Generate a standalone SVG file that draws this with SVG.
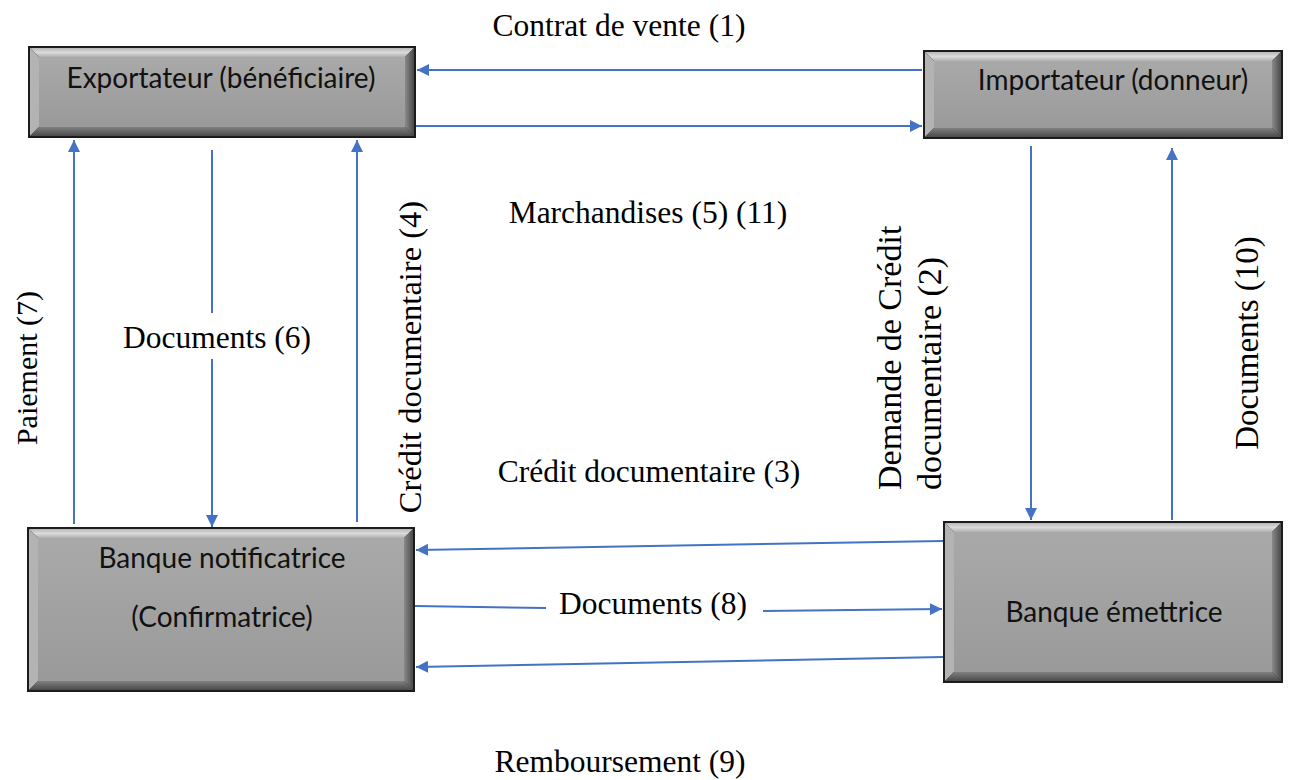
<svg xmlns="http://www.w3.org/2000/svg" width="1304" height="780" viewBox="0 0 1304 780">
<style>
.lbl{font-family:"Liberation Serif","Times New Roman",serif;font-size:31.5px;fill:#000}
.box{font-family:Lato,"Open Sans",sans-serif;font-size:28px;fill:#111}
.ln{stroke:#4472C4;stroke-width:2;fill:none}
.arr{marker-end:url(#ah)}
.brd{fill:#1c1c1c}
.bt{fill:url(#gTop)}
.bl{fill:#b3b3b3}
.br{fill:url(#gRight)}
.bb{fill:url(#gBot)}
.face{fill:url(#gFace)}
</style>
<defs>
<marker id="ah" viewBox="0 0 10 10" refX="10" refY="5" markerWidth="13" markerHeight="12" markerUnits="userSpaceOnUse" orient="auto">
<path d="M0,0 L10,5 L0,10 z" fill="#4472C4"/>
</marker>
<linearGradient id="gFace" x1="0" y1="0" x2="0" y2="1"><stop offset="0" stop-color="#a9a9a9"/><stop offset="1" stop-color="#9a9a9a"/></linearGradient>
<linearGradient id="gTop" x1="0" y1="0" x2="0" y2="1"><stop offset="0" stop-color="#b8b8b8"/><stop offset="0.5" stop-color="#dadada"/><stop offset="1" stop-color="#b0b0b0"/></linearGradient>
<linearGradient id="gRight" x1="0" y1="0" x2="1" y2="0"><stop offset="0" stop-color="#8a8a8a"/><stop offset="1" stop-color="#4a4a4a"/></linearGradient>
<linearGradient id="gBot" x1="0" y1="0" x2="0" y2="1"><stop offset="0" stop-color="#808080"/><stop offset="1" stop-color="#4a4a4a"/></linearGradient>
</defs>

<g id="exportateur">
<rect class="brd" x="28" y="46" width="388" height="92"/>
<polygon class="bt" points="30,48 414,48 405,57 39,57"/>
<polygon class="bl" points="30,48 39,57 39,127 30,136"/>
<polygon class="br" points="414,48 414,136 405,127 405,57"/>
<polygon class="bb" points="30,136 414,136 405,127 39,127"/>
<rect class="face" x="39" y="57" width="366" height="70"/>
<text class="box" x="221" y="88" text-anchor="middle">Exportateur (bénéficiaire)</text>
</g>

<g id="importateur">
<rect class="brd" x="923" y="50" width="360" height="89"/>
<polygon class="bt" points="925,52 1281,52 1272,61 934,61"/>
<polygon class="bl" points="925,52 934,61 934,128 925,137"/>
<polygon class="br" points="1281,52 1281,137 1272,128 1272,61"/>
<polygon class="bb" points="925,137 1281,137 1272,128 934,128"/>
<rect class="face" x="934" y="61" width="338" height="67"/>
<text class="box" x="1113" y="90" text-anchor="middle">Importateur (donneur)</text>
</g>

<g id="notificatrice">
<rect class="brd" x="27" y="527" width="388" height="165"/>
<polygon class="bt" points="29,529 413,529 404,538 38,538"/>
<polygon class="bl" points="29,529 38,538 38,681 29,690"/>
<polygon class="br" points="413,529 413,690 404,681 404,538"/>
<polygon class="bb" points="29,690 413,690 404,681 38,681"/>
<rect class="face" x="38" y="538" width="366" height="143"/>
<text class="box" x="222" y="568" text-anchor="middle">Banque notificatrice</text>
<text class="box" x="222" y="627" text-anchor="middle">(Confirmatrice)</text>
</g>

<g id="emettrice">
<rect class="brd" x="943" y="521" width="340" height="162"/>
<polygon class="bt" points="945,523 1281,523 1272,532 954,532"/>
<polygon class="bl" points="945,523 954,532 954,672 945,681"/>
<polygon class="br" points="1281,523 1281,681 1272,672 1272,532"/>
<polygon class="bb" points="945,681 1281,681 1272,672 954,672"/>
<rect class="face" x="954" y="532" width="318" height="140"/>
<text class="box" x="1114" y="622" text-anchor="middle">Banque émettrice</text>
</g>

<g id="connectors">
<line class="ln arr" x1="922" y1="70" x2="417" y2="70"/>
<line class="ln arr" x1="416" y1="126" x2="922" y2="126"/>
<line class="ln arr" x1="74" y1="524" x2="74" y2="140"/>
<line class="ln" x1="212" y1="150" x2="212" y2="313"/>
<line class="ln arr" x1="212" y1="359" x2="212" y2="527"/>
<line class="ln arr" x1="357" y1="522" x2="357" y2="140"/>
<line class="ln arr" x1="1031" y1="146" x2="1031" y2="520"/>
<line class="ln arr" x1="1172" y1="520" x2="1172" y2="148"/>
<line class="ln arr" x1="943" y1="541" x2="416" y2="550"/>
<line class="ln" x1="415" y1="606" x2="546" y2="608"/>
<line class="ln arr" x1="763" y1="611" x2="942" y2="609"/>
<line class="ln arr" x1="943" y1="657" x2="416" y2="667"/>
</g>

<g id="labels">
<text class="lbl" x="619" y="36" text-anchor="middle">Contrat de vente (1)</text>
<text class="lbl" x="648" y="223" text-anchor="middle">Marchandises (5) (11)</text>
<text class="lbl" x="649" y="482" text-anchor="middle">Crédit documentaire (3)</text>
<text class="lbl" x="653" y="614" text-anchor="middle">Documents (8)</text>
<text class="lbl" x="620" y="772" text-anchor="middle">Remboursement (9)</text>
<text class="lbl" x="217" y="348" text-anchor="middle">Documents (6)</text>
<text class="lbl" transform="translate(37,368) rotate(-90)" text-anchor="middle" style="font-size:30px">Paiement (7)</text>
<text class="lbl" transform="translate(421,357) rotate(-90)" text-anchor="middle" style="font-size:32.5px">Crédit documentaire (4)</text>
<text class="lbl" transform="translate(901,490) rotate(-90)" style="font-size:34px">Demande de Crédit</text>
<text class="lbl" transform="translate(941,490) rotate(-90)" style="font-size:34px">documentaire (2)</text>
<text class="lbl" transform="translate(1258,343) rotate(-90)" text-anchor="middle" style="font-size:33px">Documents (10)</text>
</g>
</svg>
